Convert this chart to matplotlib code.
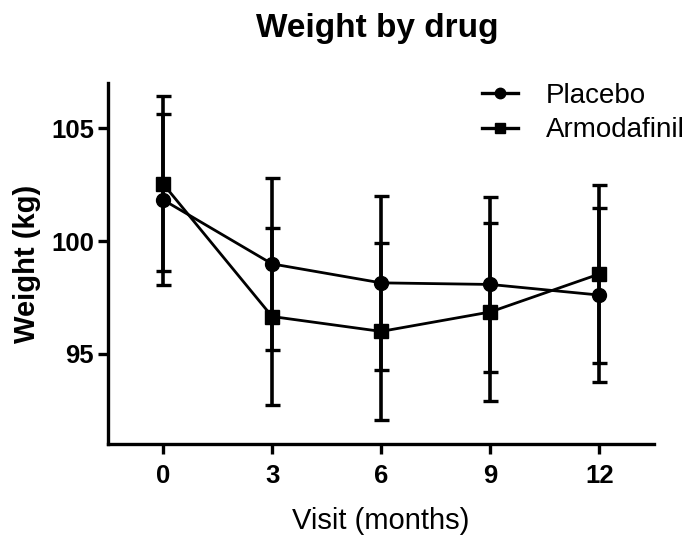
import matplotlib
matplotlib.use("Agg")
import matplotlib.pyplot as plt
from matplotlib.lines import Line2D

plt.rcParams['font.family'] = ['Liberation Sans', 'DejaVu Sans']

# Visit times (months)
visits = [0, 3, 6, 9, 12]
x_ticks = [0, 3, 6, 9, 12]
y_ticks = [95, 100, 105]

# Mean weight (kg) and standard deviation per group
placebo_mean = [101.83, 98.99, 98.15, 98.08, 97.61]
placebo_sd = [3.79, 3.82, 3.84, 3.87, 3.85]
armodafinil_mean = [102.54, 96.66, 96.0, 96.86, 98.54]
armodafinil_sd = [3.88, 3.91, 3.92, 3.95, 3.94]

fig = plt.figure(figsize=(6.94, 5.37), dpi=100)
ax = fig.add_axes([0.1563, 0.1726, 0.7857, 0.6728])

err_kw = dict(color='black', ecolor='black', elinewidth=2.6, capsize=5.4,
              capthick=2.4, linewidth=2.0)
ax.errorbar(visits, placebo_mean, yerr=placebo_sd, marker='o', markersize=10,
            **err_kw)
ax.errorbar(visits, armodafinil_mean, yerr=armodafinil_sd, marker='s', markersize=10,
            **err_kw)

ax.set_xlim(-1.5, 13.5)
ax.set_ylim(91, 107)
ax.set_xticks(x_ticks)
ax.set_yticks(y_ticks)

for side in ('top', 'right'):
    ax.spines[side].set_visible(False)
for side in ('left', 'bottom'):
    ax.spines[side].set_linewidth(2.4)

ax.tick_params(axis='both', direction='out', length=7, width=2.4, labelsize=18.5)
ax.tick_params(axis='x', pad=7)
ax.tick_params(axis='y', pad=3.5)
for lbl in ax.get_xticklabels() + ax.get_yticklabels():
    lbl.set_fontweight('bold')

ax.set_xlabel('Visit (months)', fontsize=21, labelpad=14)
ax.set_ylabel('Weight (kg)', fontsize=21, fontweight='bold', labelpad=7)
fig.suptitle('Weight by drug', fontsize=24, fontweight='bold', x=0.543, y=0.975)

handles = [
    Line2D([], [], color='black', linewidth=2.4, marker='o', markersize=7.5),
    Line2D([], [], color='black', linewidth=2.4, marker='s', markersize=7.5),
]
ax.legend(handles, ['Placebo', 'Armodafinil'], loc='upper left',
          bbox_to_anchor=(0.685, 1.0), frameon=False, fontsize=20,
          handlelength=1.3, handletextpad=1.0, labelspacing=0.3,
          borderpad=0, borderaxespad=0)

fig.savefig('out.png', dpi=100)
